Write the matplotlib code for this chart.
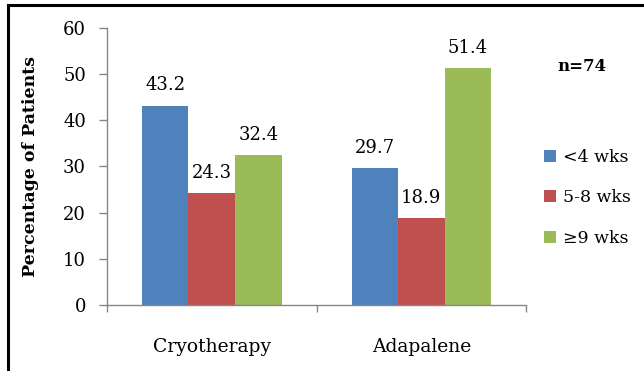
import matplotlib

matplotlib.use("Agg")
import matplotlib.pyplot as plt
from matplotlib.lines import Line2D
import numpy as np

categories = ["Cryotherapy", "Adapalene"]
series_names = ["<4 wks", "5-8 wks", "\u22659 wks"]
lt4_wks = [43.2, 29.7]
wks_5_8 = [24.3, 18.9]
ge9_wks = [32.4, 51.4]
y_ticks = [0, 10, 20, 30, 40, 50, 60]

colors = ["#4f81bd", "#c0504d", "#9bbb59"]
axis_grey = "#868686"

plt.rcParams["font.family"] = ["DejaVu Serif"]

fig = plt.figure(figsize=(6.44, 3.71), dpi=100)
ax = fig.add_axes([0.166, 0.178, 0.651, 0.7465])

x = np.arange(len(categories))
width = 0.222
for i, (vals, name) in enumerate(zip([lt4_wks, wks_5_8, ge9_wks], series_names)):
    pos = x + (i - 1) * width
    ax.bar(pos, vals, width, color=colors[i], label=name)
    for xp, v in zip(pos, vals):
        ax.annotate(f"{v:.1f}", (xp, v), xytext=(0, 8), textcoords="offset points",
                    ha="center", va="bottom", fontsize=13)

ax.set_xlim(-0.5, len(categories) - 0.5)
ax.set_ylim(0, 60)
ax.set_yticks(y_ticks)
ax.tick_params(axis="y", labelsize=13, length=6, color=axis_grey, width=1, pad=9)
ax.set_xticks(x)
ax.set_xticklabels(categories, fontsize=13.5)
ax.tick_params(axis="x", length=0, pad=24)
ax.set_xticks(np.arange(len(categories) + 1) - 0.5, minor=True)
ax.tick_params(axis="x", which="minor", length=5, color=axis_grey, width=1)

for side in ["top", "right"]:
    ax.spines[side].set_visible(False)
for side in ["left", "bottom"]:
    ax.spines[side].set_color(axis_grey)
    ax.spines[side].set_linewidth(1)

ax.set_ylabel("Percentage of Patients", fontsize=12.5, fontweight="bold", labelpad=17)

leg = fig.legend(loc="upper left", bbox_to_anchor=(0.834, 0.617), frameon=False,
                 fontsize=12.5, handlelength=0.7, handleheight=0.7, handletextpad=0.4,
                 labelspacing=1.35, borderaxespad=0)

fig.text(0.865, 0.82, "n=74", fontsize=12, fontweight="bold", va="center", ha="left")

# page border fragments (left and top)
fig.add_artist(Line2D([8 / 644, 8 / 644], [0, 1 - 5 / 371], transform=fig.transFigure,
                      color="black", linewidth=2.2))
fig.add_artist(Line2D([8 / 644, 1], [1 - 5 / 371, 1 - 5 / 371], transform=fig.transFigure,
                      color="black", linewidth=2.2))

fig.savefig("out.png", dpi=100)
